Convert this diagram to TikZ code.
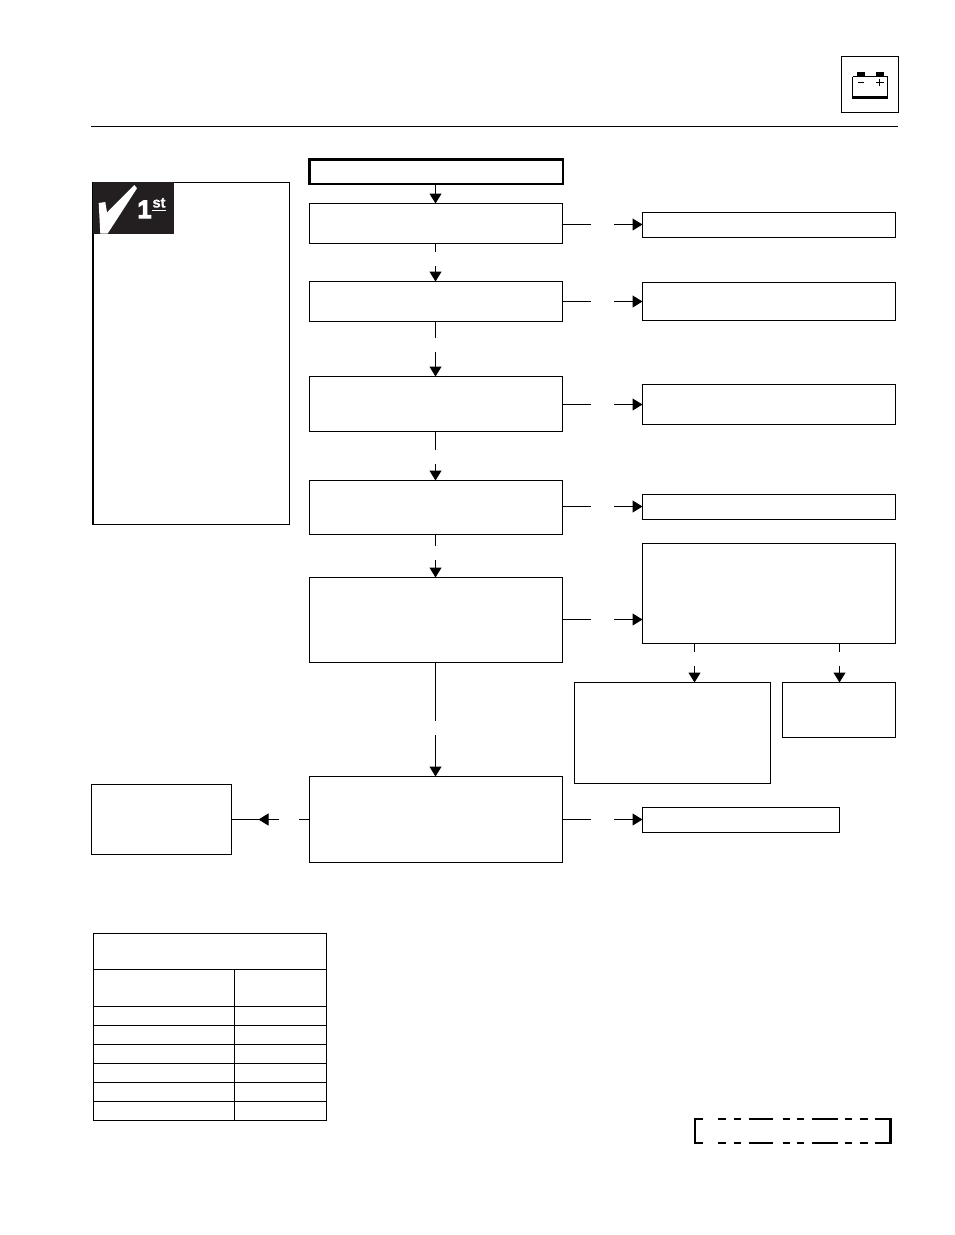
\documentclass[tikz,border=0pt]{standalone}
\usepackage{fontspec}
\setmainfont{Liberation Sans}
\newfontfamily\heavyone[FakeBold=4.5]{Liberation Sans Bold}
\newfontfamily\heavyst[FakeBold=1]{Liberation Sans Bold}
\usetikzlibrary{arrows.meta}
\definecolor{ink}{HTML}{231F20}
\tikzset{
  x=1pt,y=-1pt,
  box/.style={draw=black,line width=1pt,inner sep=0pt,outer sep=0pt,anchor=north west,fill=white},
  startbox/.style={box,line width=2.8pt},
  link/.style={draw=black,line width=1pt},
  arr/.style={link,-{Triangle[length=10pt,width=12pt]}},
  rule/.style={draw=black,line width=1pt},
  dashseg/.style={draw=black,line width=2.2pt},
}
\newcommand{\bx}[6][box]{%
  \pgfmathsetlengthmacro{\bw}{#5-#3}\pgfmathsetlengthmacro{\bh}{#6-#4}%
  \node[#1,minimum width=\bw,minimum height=\bh] (#2) at (#3,#4) {};}
\begin{document}
\begin{tikzpicture}
\useasboundingbox (0,0) rectangle (954,1235);
\fill[white] (0,0) rectangle (954,1235);
% header
\draw[rule] (91,126.5) -- (898,126.5);
\bx{icon}{841.5}{56.5}{898.5}{112.5}
\fill[black] (857,72) rectangle (865,76.5);
\fill[black] (876,72) rectangle (884,76.5);
\draw[line width=1pt] (852.5,76.5) -- (887.5,76.5);
\draw[line width=1.3pt] (852.5,76.5) -- (852.5,98);
\draw[line width=1.3pt] (887.5,76.5) -- (887.5,98);
\draw[line width=2.4pt] (851.9,97.6) -- (888.1,97.6);
\draw[line width=1.4pt] (858,82.5) -- (864,82.5);
\draw[line width=1.4pt] (876,82.5) -- (883.5,82.5);
\draw[line width=1.4pt] (879.7,78.5) -- (879.7,86.2);
% note panel
\bx{panel}{92.5}{182.5}{289.5}{524.5}
\draw[line width=2pt] (93,182) -- (93,525);
\fill[ink] (93,182) rectangle (174,233.5);
\fill[white] (98.7,203) -- (105.3,202) -- (107,212.5) -- (134.3,185) -- (137,188.3) -- (107.7,233.5) -- (100.3,233.5) -- cycle;
\node[text=white,font=\heavyone\fontsize{25}{25}\selectfont,inner sep=0pt,anchor=base] (one) at (144.5,218) {1};
\node[text=white,font=\heavyst\fontsize{14.5}{14.5}\selectfont,inner sep=0pt,anchor=base] (st) at (159,207.5) {st};
\draw[white,line width=1.4pt] (152.3,210.5) -- (165.7,210.5);
% main column
\bx[startbox]{S}{309.5}{159.5}{563}{184}
\bx{B1}{309.5}{203.5}{562.5}{243.5}
\bx{B2}{309.5}{281.5}{562.5}{321.5}
\bx{B3}{309.5}{376.5}{562.5}{431.5}
\bx{B4}{309.5}{480.5}{562.5}{534.5}
\bx{B5}{309.5}{577.5}{562.5}{662.5}
\bx{B6}{309.5}{776.5}{562.5}{862.5}
\bx{L}{91.5}{784.5}{231.5}{854.5}
% right column
\bx{R1}{642.5}{212.5}{895.5}{237.5}
\bx{R2}{642.5}{282.5}{895.5}{320.5}
\bx{R3}{642.5}{384.5}{895.5}{424.5}
\bx{R4}{642.5}{494.5}{895.5}{519.5}
\bx{R5}{642.5}{543.5}{895.5}{643.5}
\bx{D1}{574.5}{682.5}{770.5}{783.5}
\bx{D2}{782.5}{682.5}{895.5}{737.5}
\bx{R6}{642.5}{807.5}{839.5}{832.5}
% vertical connectors
\coordinate (c) at (435.5,0);
\draw[arr] (c |- S.south) -- (c |- B1.north);
\coordinate (v1a) at (435.5,252);\coordinate (v1b) at (435.5,266);
\coordinate (v2a) at (435.5,338);\coordinate (v2b) at (435.5,352);
\coordinate (v3a) at (435.5,450);\coordinate (v3b) at (435.5,464);
\coordinate (v4a) at (435.5,546);\coordinate (v4b) at (435.5,560);
\coordinate (v5a) at (435.5,721);\coordinate (v5b) at (435.5,735);
\draw[link] (c |- B1.south) -- (v1a); \draw[arr] (v1b) -- (c |- B2.north);
\draw[link] (c |- B2.south) -- (v2a); \draw[arr] (v2b) -- (c |- B3.north);
\draw[link] (c |- B3.south) -- (v3a); \draw[arr] (v3b) -- (c |- B4.north);
\draw[link] (c |- B4.south) -- (v4a); \draw[arr] (v4b) -- (c |- B5.north);
\draw[link] (c |- B5.south) -- (v5a); \draw[arr] (v5b) -- (c |- B6.north);
% horizontal connectors
\foreach \i/\y/\a/\b in {1/224.5/B1/R1,2/301.5/B2/R2,3/404.5/B3/R3,4/506.5/B4/R4,5/619.5/B5/R5,6/819.5/B6/R6}{
  \coordinate (h\i a) at (591,\y);
  \coordinate (h\i b) at (614,\y);
  \draw[link] (\a.east |- h\i a) -- (h\i a);
  \draw[arr] (h\i b) -- (\b.west |- h\i b);
}
% to left box: the head sits midway along the line
\coordinate (la) at (299,819.5);\coordinate (lb) at (279,819.5);\coordinate (lt) at (258.5,819.5);
\draw[link] (B6.west |- la) -- (la);
\draw[arr] (lb) -- (lt);
\draw[link] (lt) -- (L.east |- lt);
% branch
\coordinate (d1a) at (694.5,652);\coordinate (d1b) at (694.5,666);
\coordinate (d2a) at (839.5,652);\coordinate (d2b) at (839.5,666);
\draw[link] (R5.south -| d1a) -- (d1a); \draw[arr] (d1b) -- (D1.north -| d1b);
\draw[link] (R5.south -| d2a) -- (d2a); \draw[arr] (d2b) -- (D2.north -| d2b);
% table
\draw[rule] (93.5,933.5) rectangle (326.5,1120.5);
\foreach \y in {969.5,1006.5,1025.5,1044.5,1063.5,1082.5,1101.5}
  \draw[rule] (93.5,\y) -- (326.5,\y);
\draw[rule] (234.5,969.5) -- (234.5,1120.5);
% dashed frame
\foreach \y in {1119.3,1143.3}
  \foreach \p/\q in {695/703.3,718.3/725.7,734.3/740.7,749/773.3,782.7/790,797/804.3,812/837.7,845/852.3,860/867.7,875/892.3}
    \draw[dashseg] (\p,\y) -- (\q,\y);
\draw[line width=2.4pt] (695.2,1118.3) -- (695.2,1144.3);
\draw[line width=3pt] (890.8,1118.3) -- (890.8,1144.3);
\end{tikzpicture}
\end{document}
